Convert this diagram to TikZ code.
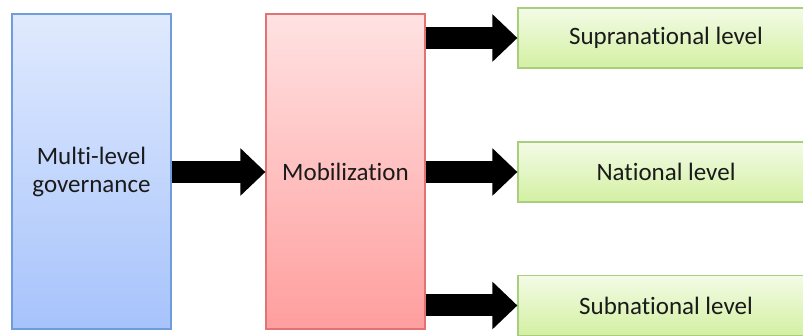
\documentclass[tikz,border=0pt]{standalone}
\usepackage{fontspec}
\setmainfont[Ligatures=NoCommon]{Carlito}
\usetikzlibrary{arrows.meta,shadows}

\definecolor{blueTop}{HTML}{E0EAFD}
\definecolor{blueBot}{HTML}{A7C3FC}
\definecolor{blueLine}{HTML}{6F9DDB}
\definecolor{pinkTop}{HTML}{FFE2E2}
\definecolor{pinkBot}{HTML}{FF9E9E}
\definecolor{pinkLine}{HTML}{E07474}
\definecolor{greenTop}{HTML}{F3FBE6}
\definecolor{greenBot}{HTML}{D3F0A2}
\definecolor{greenLine}{HTML}{A9CF7E}
\definecolor{inkText}{HTML}{1A1A1A}

\tikzset{
  softshadow/.style={drop shadow={shadow xshift=1pt, shadow yshift=-1.5pt, opacity=0.25, fill=black!60}},
  tallbox/.style={rectangle, inner sep=0pt, minimum width=159pt, minimum height=315pt,
    line width=1.2pt, softshadow, align=center, text=inkText,
    font=\fontsize{25}{28}\selectfont},
  bluebox/.style={tallbox, draw=blueLine, top color=blueTop, bottom color=blueBot},
  pinkbox/.style={tallbox, draw=pinkLine, top color=pinkTop, bottom color=pinkBot},
  levelbox/.style={rectangle, inner sep=0pt, minimum width=296pt, minimum height=60pt,
    line width=1.2pt, softshadow, draw=greenLine, top color=greenTop, bottom color=greenBot,
    text=inkText, font=\fontsize{25}{28}\selectfont},
  blockarrow/.style={line width=22pt, draw=black,
    -{Triangle[length=25pt, width=46pt]}},
}

\begin{document}
\begin{tikzpicture}[x=1pt, y=-1pt]
  \useasboundingbox (0,0) rectangle (803,336);

  % the two tall boxes
  \node[bluebox] (mlg) at (91.5,171.5) {Multi-level\\governance};
  \node[pinkbox] (mob) at (345.5,171.5) {Mobilization};

  % the three level boxes on the right
  \node[levelbox] (sup) at (666,38) {Supranational level};
  \node[levelbox] (nat) at (666,172) {National level};
  \node[levelbox] (sub) at (666,305.5) {Subnational level};

  % block arrows
  \draw[blockarrow] (mlg.east |- 0,172) -- (mob.west |- 0,172);
  \draw[blockarrow] (mob.east |- sup.west) -- (sup.west);
  \draw[blockarrow] (mob.east |- nat.west) -- (nat.west);
  \draw[blockarrow] (mob.east |- sub.west) -- (sub.west);
\end{tikzpicture}
\end{document}
